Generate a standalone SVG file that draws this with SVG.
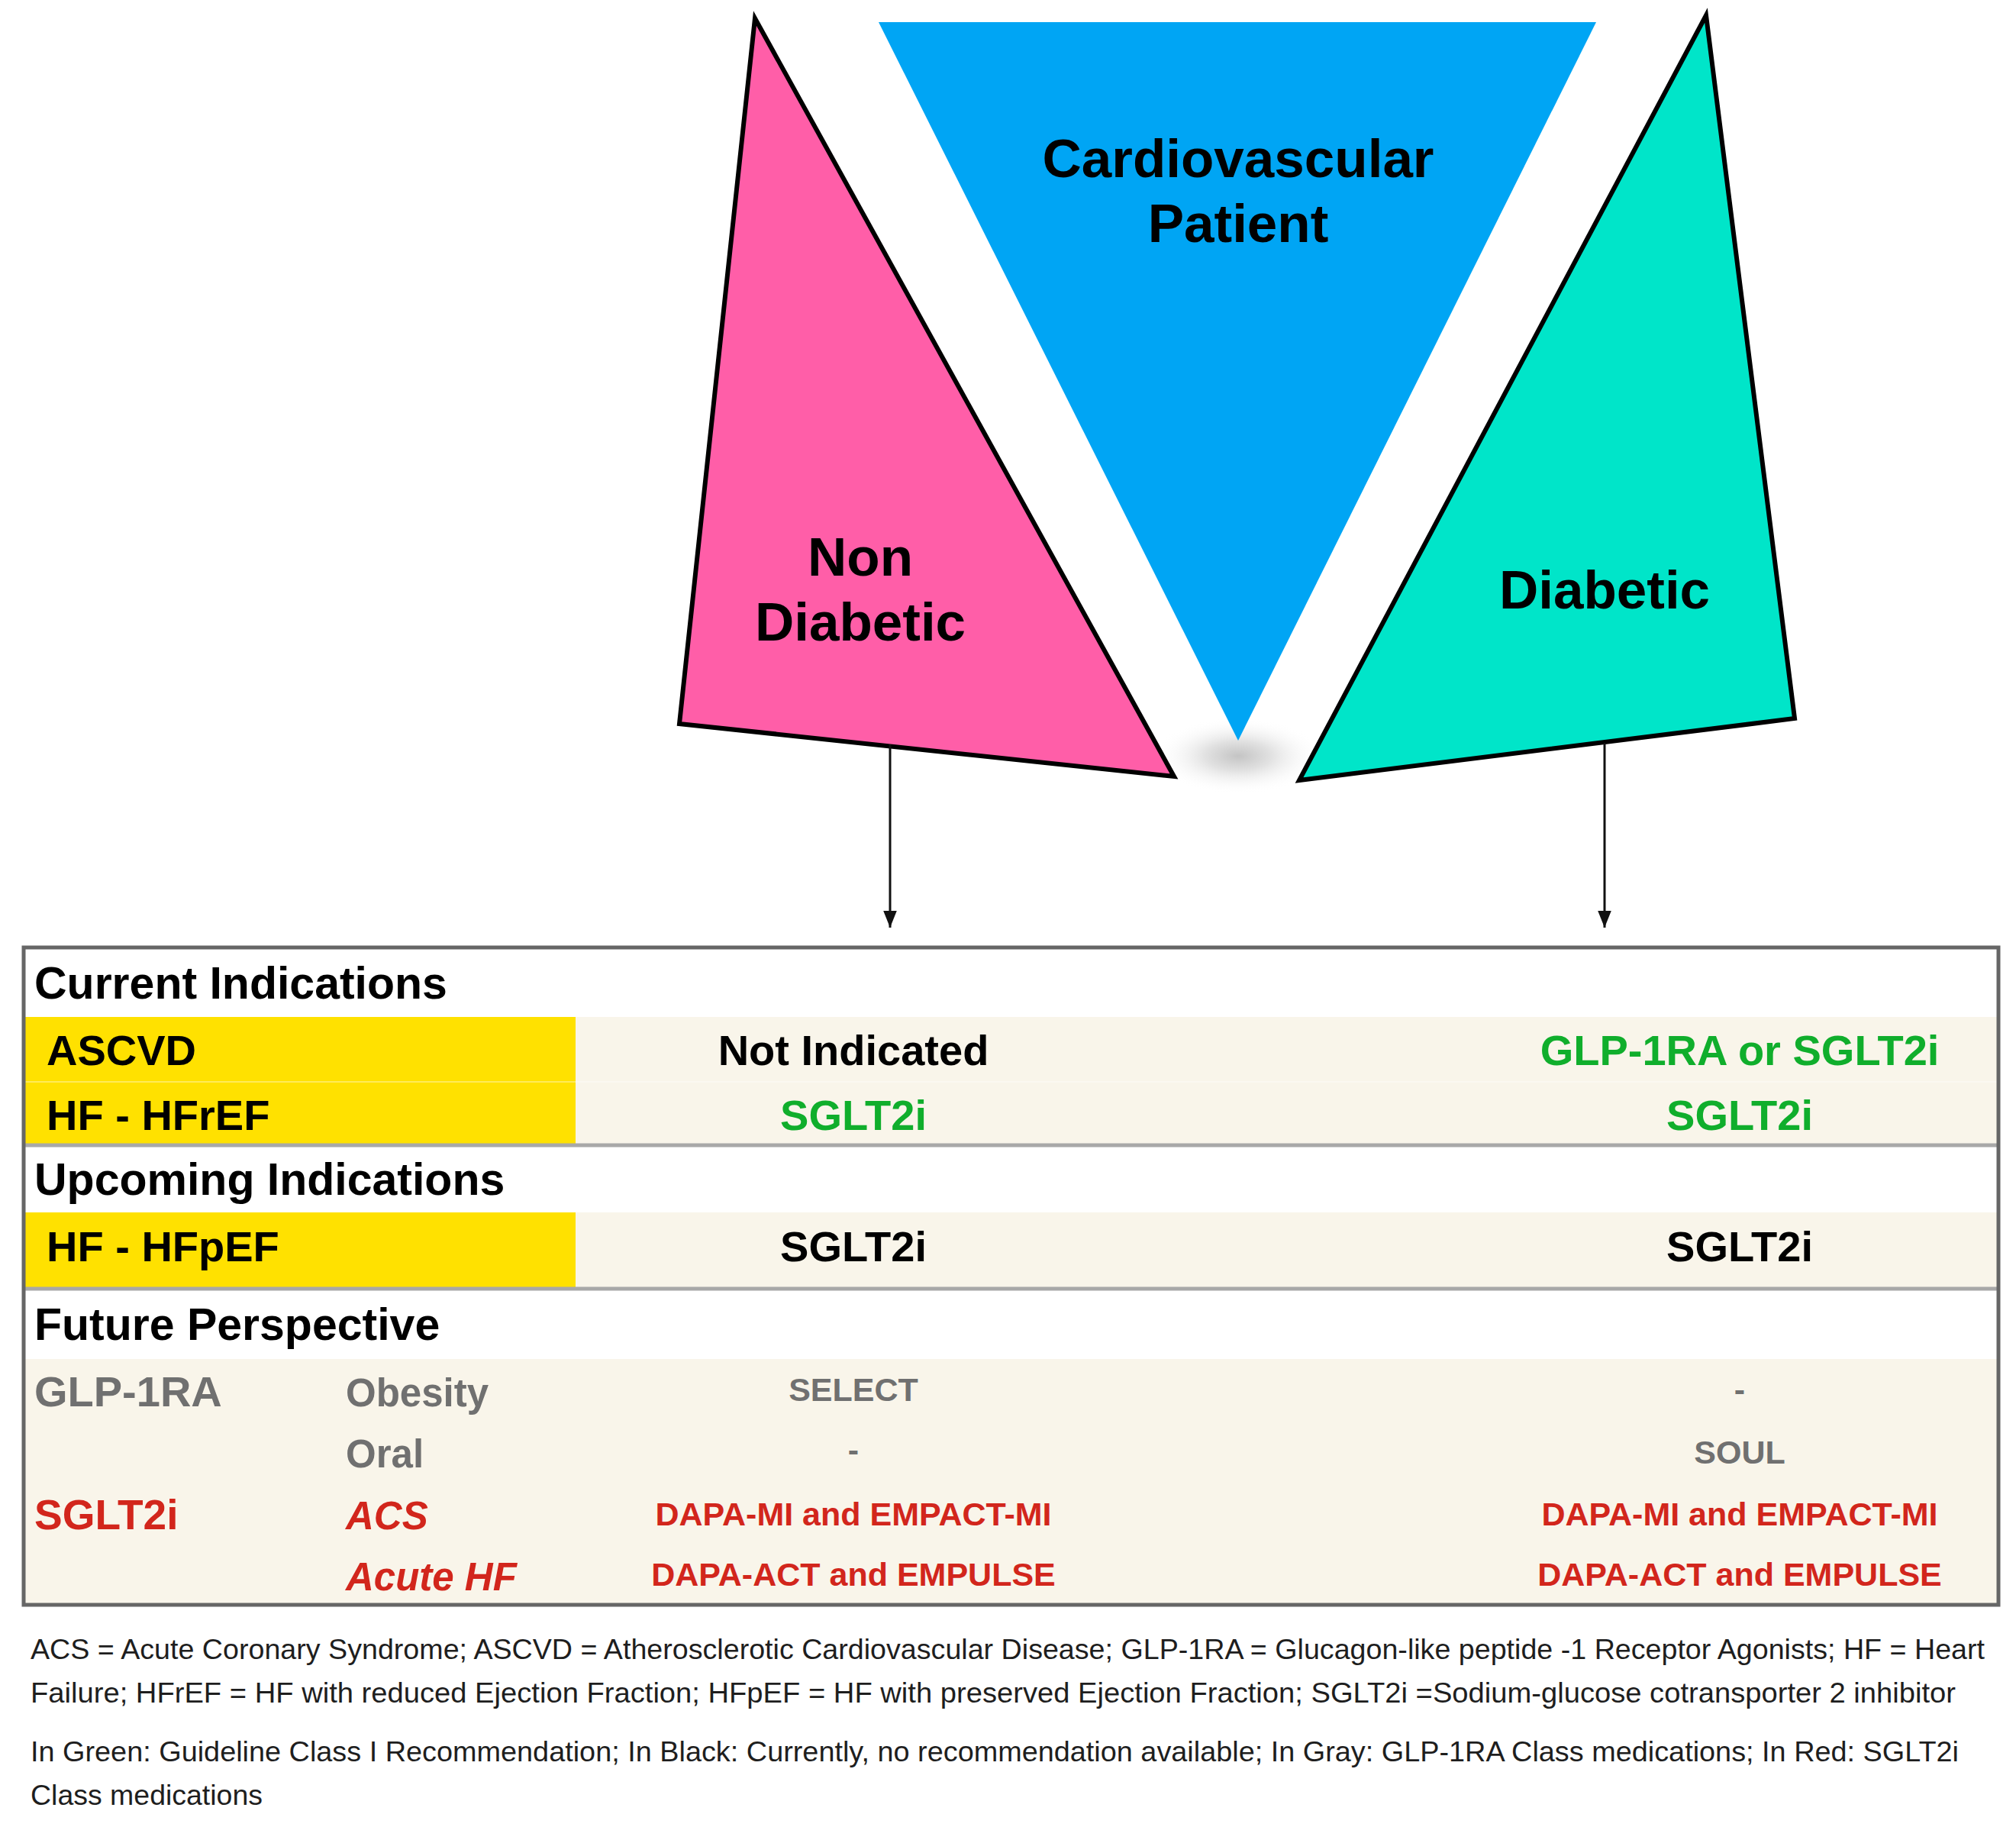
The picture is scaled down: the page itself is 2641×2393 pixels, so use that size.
<svg xmlns="http://www.w3.org/2000/svg" width="2641" height="2393" viewBox="0 0 2641 2393">
<style>
.t{font-family:"Liberation Sans",Arial,sans-serif;font-weight:bold}
.tri{stroke:#000;stroke-width:6;stroke-linejoin:miter}
.big{font-size:71px;fill:#000;text-anchor:middle}
.hdr{font-size:59px;fill:#000}
.row{font-size:56px}
.c{text-anchor:middle}
.blk{fill:#000}
.grn{fill:#10AE2C}
.red{fill:#D2261C}
.gry{fill:#707070}
.sub{font-size:51px}
.it{font-style:italic}
.sm{font-size:43px}
.yel{fill:#FFE100}
.bei{fill:#F9F5EA}
.div{stroke:#A8A8A8;stroke-width:5}
.foot{font-family:"Liberation Sans",Arial,sans-serif;font-size:37px;fill:#1e1e1e}
</style>
<defs>
<marker id="ah" viewBox="0 0 10 10" refX="10" refY="5" markerWidth="22" markerHeight="22" markerUnits="userSpaceOnUse" orient="auto">
<path d="M0,1 L10,5 L0,9 z" fill="#111"/>
</marker>
<radialGradient id="sh" cx="0.5" cy="0.5" r="0.5">
<stop offset="0" stop-color="#c4c4c4"/>
<stop offset="0.4" stop-color="#e2e2e2"/>
<stop offset="1" stop-color="#ffffff" stop-opacity="0"/>
</radialGradient>
</defs>
<rect width="2641" height="2393" fill="#fff"/>
<ellipse cx="1622" cy="990" rx="110" ry="50" fill="url(#sh)"/>
<g id="cardiovascular-patient">
<polygon points="1151,29 2091,29 1622,970" fill="#00A5F4"/>
<text class="t big" x="1622" y="232">Cardiovascular</text>
<text class="t big" x="1622" y="317">Patient</text>
</g>
<g id="non-diabetic">
<polygon class="tri" points="989,24 890,948 1538,1017" fill="#FF5EA8"/>
<text class="t big" x="1127" y="754">Non</text>
<text class="t big" x="1127" y="839">Diabetic</text>
</g>
<g id="diabetic">
<polygon class="tri" points="2235,20 2351,941 1702,1022" fill="#00E5C9"/>
<text class="t big" x="2102" y="797">Diabetic</text>
</g>
<g id="connectors" stroke="#111" stroke-width="3">
<line x1="1166" y1="975" x2="1166" y2="1215" marker-end="url(#ah)"/>
<line x1="2102" y1="973" x2="2102" y2="1215" marker-end="url(#ah)"/>
</g>
<g id="table">
<rect x="31" y="1241" width="2587" height="861" fill="#fff"/>
<rect class="yel" x="33" y="1332" width="721" height="168"/>
<rect class="bei" x="754" y="1332" width="1862" height="168"/>
<line x1="33" y1="1417" x2="2616" y2="1417" stroke="#fff" stroke-opacity="0.35" stroke-width="2"/>
<rect class="yel" x="33" y="1588" width="721" height="100"/>
<rect class="bei" x="754" y="1588" width="1862" height="100"/>
<rect class="bei" x="33" y="1780" width="2583" height="320"/>
<line class="div" x1="33" y1="1500" x2="2616" y2="1500"/>
<line class="div" x1="33" y1="1688" x2="2616" y2="1688"/>
<rect x="31" y="1241" width="2587" height="861" fill="none" stroke="#666" stroke-width="5"/>
<g id="current-indications">
<text class="t hdr" x="45" y="1308">Current Indications</text>
<text class="t row blk" x="61" y="1395">ASCVD</text>
<text class="t row blk c" x="1118" y="1395">Not Indicated</text>
<text class="t row grn c" x="2279" y="1395">GLP-1RA or SGLT2i</text>
<text class="t row blk" x="61" y="1480">HF - HFrEF</text>
<text class="t row grn c" x="1118" y="1480">SGLT2i</text>
<text class="t row grn c" x="2279" y="1480">SGLT2i</text>
</g>
<g id="upcoming-indications">
<text class="t hdr" x="45" y="1565">Upcoming Indications</text>
<text class="t row blk" x="61" y="1652">HF - HFpEF</text>
<text class="t row blk c" x="1118" y="1652">SGLT2i</text>
<text class="t row blk c" x="2279" y="1652">SGLT2i</text>
</g>
<g id="future-perspective">
<text class="t hdr" x="45" y="1755">Future Perspective</text>
<text class="t row gry" x="45" y="1842">GLP-1RA</text>
<text class="t sub gry" x="453" y="1842">Obesity</text>
<text class="t sm gry c" x="1118" y="1835">SELECT</text>
<text class="t sm gry c" x="2279" y="1835">-</text>
<text class="t sub gry" x="453" y="1922">Oral</text>
<text class="t sm gry c" x="1118" y="1914">-</text>
<text class="t sm gry c" x="2279" y="1917">SOUL</text>
<text class="t row red" x="45" y="2003" style="font-size:55px">SGLT2i</text>
<text class="t sub red it" x="453" y="2003">ACS</text>
<text class="t sm red c" x="1118" y="1998">DAPA-MI and EMPACT-MI</text>
<text class="t sm red c" x="2279" y="1998">DAPA-MI and EMPACT-MI</text>
<text class="t sub red it" x="453" y="2083">Acute HF</text>
<text class="t sm red c" x="1118" y="2077">DAPA-ACT and EMPULSE</text>
<text class="t sm red c" x="2279" y="2077">DAPA-ACT and EMPULSE</text>
</g>
</g>
<g id="footnotes">
<text class="foot" x="40" y="2173" textLength="2560" lengthAdjust="spacingAndGlyphs">ACS = Acute Coronary Syndrome; ASCVD = Atherosclerotic Cardiovascular Disease; GLP-1RA = Glucagon-like peptide -1 Receptor Agonists; HF = Heart</text>
<text class="foot" x="40" y="2230" textLength="2522" lengthAdjust="spacingAndGlyphs">Failure; HFrEF = HF with reduced Ejection Fraction; HFpEF = HF with preserved Ejection Fraction; SGLT2i =Sodium-glucose cotransporter 2 inhibitor</text>
<text class="foot" x="40" y="2307" textLength="2526" lengthAdjust="spacingAndGlyphs">In Green: Guideline Class I Recommendation; In Black: Currently, no recommendation available; In Gray: GLP-1RA Class medications; In Red: SGLT2i</text>
<text class="foot" x="40" y="2364" textLength="304" lengthAdjust="spacingAndGlyphs">Class medications</text>
</g>
</svg>
